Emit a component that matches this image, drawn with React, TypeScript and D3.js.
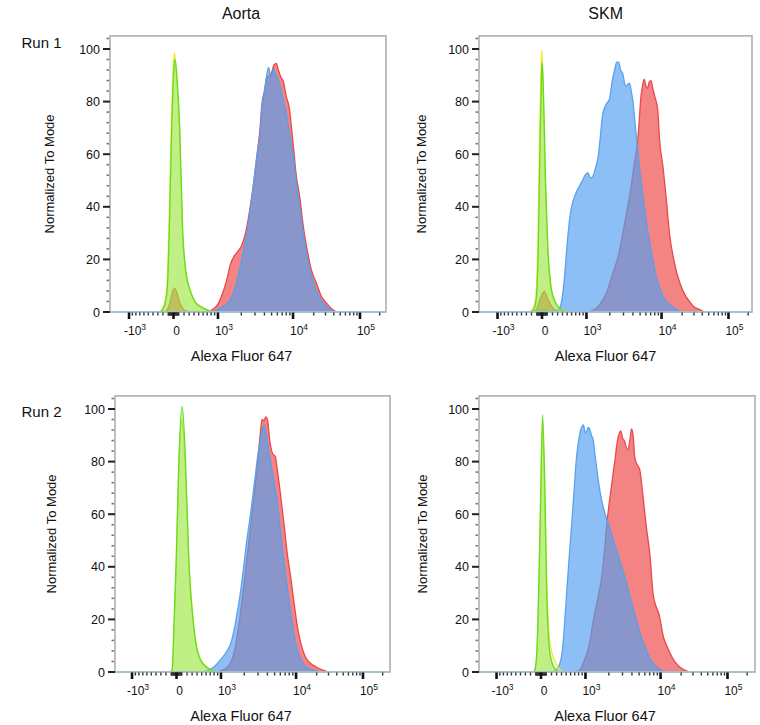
import React from "react";
import * as d3 from "d3";

type Pt = [number, number];

// ---------- text ----------
const colTitles = ["Aorta", "SKM"];
const rowTitles = ["Run 1", "Run 2"];
const xAxisTitle = "Alexa Fluor 647";
const yAxisTitle = "Normalized To Mode";
const yTickValues = [0, 20, 40, 60, 80, 100];
const xMajorTicks = [-1000, 0, 1000, 10000, 100000];
const xTickBase = ["-10", "0", "10", "10", "10"];
const xTickExp = ["3", "", "3", "4", "5"];

// ---------- data: [intensity, % of mode] ----------
const aortaRun1Red: Pt[] = [[-160,0],[-100,1.5],[-50,5],[0,8.5],[25,9],[60,7.5],[110,4],[170,1.5],[250,0.3],[350,0],[700,0],[850,1],[1000,3],[1150,7],[1300,12],[1450,18],[1600,21],[1800,23],[2000,25],[2300,31],[2600,40],[2850,48],[3200,60],[3500,70],[3700,79],[4000,84],[4300,89],[4700,90],[5000,91],[5400,94],[5800,94.5],[6200,92],[6800,89],[7200,88],[8000,82],[8900,77],[9500,70],[10200,62],[11000,53],[12600,43],[14000,33],[15700,25],[18500,16],[22000,11],[26000,6],[31000,3.4],[37000,1.2],[44000,0]];
const aortaRun1Blue: Pt[] = [[850,0],[1000,1],[1200,2.5],[1450,4.7],[1700,10],[1930,17],[2150,24],[2350,30],[2600,39],[2850,48],[3200,60],[3500,68],[3650,76],[3900,82],[4100,86],[4350,91],[4550,93],[4800,90],[5000,89.5],[5300,92.5],[5600,91],[6000,89],[6400,87],[7200,81],[8000,75.6],[9000,67],[10200,58],[11400,47],[12600,39],[14000,30],[15700,22],[18000,15],[21000,9.7],[24500,5.5],[28000,3.4],[33000,1.5],[39000,0.3],[42000,0]];
const aortaRun1Yellow: Pt[] = [[-260,0],[-185,2.2],[-125,9],[-85,33],[-40,72],[-5,93],[20,98.6],[55,90],[110,70],[165,33],[230,15],[320,8],[420,3.5],[560,1.5],[750,0.4],[950,0]];
const aortaRun1Green: Pt[] = [[-250,0],[-180,2],[-120,8.4],[-80,31],[-35,69],[0,90],[30,96],[70,88],[120,69],[175,31],[240,15],[320,8.4],[420,4],[560,2],[750,0.5],[950,0]];

const skmRun1Red: Pt[] = [[-160,0],[-100,1.2],[-50,4],[10,7],[45,7.8],[100,5.5],[170,2.5],[260,0.6],[350,0],[1000,0],[1200,0.5],[1500,3],[1800,7],[2200,15],[2600,22],[2940,30],[3400,40],[3800,48],[4200,57],[4600,64],[4900,74],[5100,81],[5400,86],[5700,88.5],[6000,86],[6300,85],[6700,87.5],[7100,88],[7500,85],[8000,82],[8800,77],[9400,65],[10500,55],[11700,43],[13000,30],[15300,19],[18500,11],[22000,6.5],[25700,4],[30000,2],[36000,1],[43000,0]];
const skmRun1Blue: Pt[] = [[-150,0],[-60,0.8],[40,1],[150,0.5],[250,0.5],[330,1.2],[370,3],[430,11],[510,28],[560,36],[600,40],[700,45],[800,48],[880,50],[960,52],[1040,53],[1130,51],[1210,51.5],[1320,55],[1420,59],[1520,67],[1620,75],[1800,79],[1980,81],[2150,88],[2300,92],[2450,95],[2600,95],[2750,92],[2940,90.5],[3100,87],[3250,85.7],[3400,86.5],[3600,87],[3800,84],[4000,80],[4400,68],[4900,55],[5700,40],[6700,27.5],[8400,13.5],[10500,6],[14500,2],[18500,0]];
const skmRun1Yellow: Pt[] = [[-240,0],[-165,1.5],[-115,6],[-75,30],[-45,68],[-15,95],[-5,99.6],[20,86],[60,50],[105,25],[165,9],[250,3.5],[370,1],[500,0]];
const skmRun1Green: Pt[] = [[-230,0],[-160,1],[-110,5],[-70,25],[-40,60],[-10,90],[5,95],[30,82],[70,48],[110,25],[170,10],[250,4],[370,1],[500,0]];

const aortaRun2Red: Pt[] = [[900,0],[1230,2],[1500,8],[1780,22],[2100,40],[2400,55],[2700,68],[2930,78],[3200,90],[3400,96],[3600,95.5],[3800,97],[4000,96],[4300,88],[4700,83],[5100,82],[5500,76],[6000,68],[6700,57],[7500,45],[8500,35],[9500,25],[10500,17],[11700,11],[13500,6],[16000,3.4],[20000,1.8],[23500,0.9],[30000,0]];
const aortaRun2Blue: Pt[] = [[500,0],[620,0.5],[800,2],[990,4.7],[1200,8],[1350,11],[1550,19],[1780,30],[2000,42],[2150,50],[2350,58],[2530,65.5],[2750,74],[2930,80.7],[3200,88],[3400,92],[3650,94],[3970,88],[4300,82],[4600,77],[5000,71],[5400,65.5],[6000,54],[6700,42.7],[7500,32],[8400,22.4],[9400,14],[10500,8.5],[11700,5],[13000,2.8],[15000,1.5],[18400,0.6],[22000,0]];
const aortaRun2Yellow: Pt[] = [[-110,0],[-75,2],[-50,14],[-5,40],[45,78],[100,96],[165,78],[235,42],[335,17],[470,5],[700,1],[900,0]];
const aortaRun2Green: Pt[] = [[-110,0],[-80,1],[-70,4.7],[-50,17],[-5,43],[45,81],[108,101],[170,81],[235,43],[335,17],[470,4.7],[700,0.9],[900,0]];

const skmRun2Red: Pt[] = [[700,0],[820,0.5],[950,4],[1040,7],[1150,12],[1270,19.7],[1450,28],[1620,36],[1750,45],[1870,55],[2000,63],[2160,70.5],[2280,76],[2400,80.7],[2520,86],[2650,89.6],[2850,91.7],[3000,89],[3200,87.7],[3400,85],[3550,84.5],[3750,88],[3950,92.4],[4150,90],[4350,82],[4600,79.4],[5100,77],[5600,68],[6300,55],[7100,44],[7800,30],[8600,25],[9500,22],[11000,13.3],[12500,9.5],[13800,7],[16000,4],[19000,1.9],[26500,0]];
const skmRun2Blue: Pt[] = [[200,0],[290,1],[360,3],[410,7],[460,17],[510,30],[560,42],[620,55],[680,68],[740,80.7],[820,89.6],[880,93],[940,94],[990,91],[1040,91.5],[1080,93],[1120,92.8],[1200,90],[1270,88],[1340,82],[1410,77],[1520,70],[1620,65.4],[1800,60],[2050,55],[2300,50],[2530,46],[3000,39],[3400,33.7],[4000,26],[4600,19.7],[5400,13],[6300,8.3],[7500,4],[8800,1.9],[11000,0]];
const skmRun2Yellow: Pt[] = [[-130,0],[-110,1],[-80,6],[-45,28],[-5,66],[25,95],[70,68],[110,34],[170,11],[270,4],[340,1.5],[450,0]];
const skmRun2Green: Pt[] = [[-130,0],[-115,1],[-80,7],[-45,30],[-5,68],[30,97.8],[75,68],[108,30],[170,7],[270,1],[350,0]];

const panelData = [
  { red: aortaRun1Red, blue: aortaRun1Blue, yellow: aortaRun1Yellow, green: aortaRun1Green },
  { red: skmRun1Red, blue: skmRun1Blue, yellow: skmRun1Yellow, green: skmRun1Green },
  { red: aortaRun2Red, blue: aortaRun2Blue, yellow: aortaRun2Yellow, green: aortaRun2Green },
  { red: skmRun2Red, blue: skmRun2Blue, yellow: skmRun2Yellow, green: skmRun2Green },
];

// ---------- layout ----------
const layouts = [
  { left: 110, right: 386, base: 312, zero: 173.5, yTitleX: 49.3, xTitleX: 241.5 },
  { left: 479, right: 752, base: 312, zero: 542, yTitleX: 421.7, xTitleX: 605.5 },
  { left: 115, right: 390, base: 672, zero: 176.5, yTitleX: 51, xTitleX: 241 },
  { left: 479, right: 755, base: 672, zero: 541, yTitleX: 422, xTitleX: 605 },
];
const PX_PER_U = 28.2;
const PX_PER_PCT = 2.63;
const Y_MAX = 105;

const styles: { key: "red" | "blue" | "yellow" | "green"; fill: string; stroke: string }[] = [
  { key: "red", fill: "rgba(240,80,80,0.7)", stroke: "rgba(232,66,66,0.95)" },
  { key: "blue", fill: "rgba(84,159,240,0.67)", stroke: "rgba(85,160,235,0.95)" },
  { key: "yellow", fill: "rgba(245,245,80,0.35)", stroke: "rgba(238,232,40,0.95)" },
  { key: "green", fill: "rgba(120,225,60,0.45)", stroke: "rgba(95,218,35,0.95)" },
];

const FONT = "'Liberation Sans', Arial, Helvetica, sans-serif";

// ---------- logicle-like (biexponential) transform ----------
const K = 133;
const P = 3;
function biex(u: number): number {
  const a = Math.abs(u);
  const v = K * (Math.exp(a) - P * P * Math.exp(-a / P) + P * P - 1);
  return u < 0 ? -v : v;
}
function toU(x: number): number {
  let lo = -12, hi = 14;
  for (let i = 0; i < 70; i++) {
    const m = (lo + hi) / 2;
    if (biex(m) < x) lo = m; else hi = m;
  }
  return (lo + hi) / 2;
}

const minorXTicks = [
  ...d3.range(-900, -99, 100),
  ...d3.range(-90, 0, 10),
  ...d3.range(10, 100, 10),
  ...d3.range(100, 1000, 100),
  ...d3.range(2000, 10000, 1000),
  ...d3.range(20000, 100000, 10000),
  200000,
];
const minorYTicks = d3.range(0, 105, 4).filter((v) => v % 20 !== 0);

function Panel({ idx }: { idx: number }) {
  const L = layouts[idx];
  const data = panelData[idx];
  const xs = d3.scaleLinear()
    .domain([(L.left - L.zero) / PX_PER_U, (L.right - L.zero) / PX_PER_U])
    .range([L.left, L.right]);
  const ys = d3.scaleLinear().domain([0, 100]).range([L.base, L.base - 100 * PX_PER_PCT]);
  const top = ys(Y_MAX);
  const area = d3.area<Pt>()
    .x((d) => xs(toU(d[0])))
    .y0(ys(0))
    .y1((d) => ys(d[1]))
    .curve(d3.curveMonotoneX);
  const line = d3.line<Pt>()
    .x((d) => xs(toU(d[0])))
    .y((d) => ys(d[1]))
    .curve(d3.curveMonotoneX);
  const clipId = `clip-${idx}`;
  const inX = (v: number) => {
    const p = xs(toU(v));
    return p >= L.left && p <= L.right;
  };
  return (
    <g>
      <defs>
        <clipPath id={clipId}>
          <rect x={L.left} y={top} width={L.right - L.left} height={L.base - top} />
        </clipPath>
      </defs>
      <g clipPath={`url(#${clipId})`}>
        {styles.map((s) => (
          <g key={s.key}>
            <path d={area(data[s.key]) || ""} fill={s.fill} stroke="none" />
            <path d={line(data[s.key]) || ""} fill="none" stroke={s.stroke} strokeWidth={1.3} />
          </g>
        ))}
      </g>
      <rect x={L.left} y={top} width={L.right - L.left} height={L.base - top} fill="none" stroke="#b0b0b0" strokeWidth={1.6} />
      <line x1={L.left} x2={L.right} y1={L.base} y2={L.base} stroke="#9ec3d3" strokeWidth={1.4} />
      {yTickValues.map((v) => (
        <g key={`y${v}`}>
          <line x1={L.left - 7} x2={L.left} y1={ys(v)} y2={ys(v)} stroke="#222" strokeWidth={2} />
          <text x={L.left - 10} y={ys(v)} dy="0.36em" textAnchor="end" fontSize={12.5} fontFamily={FONT} fill="#111">{v}</text>
        </g>
      ))}
      {minorYTicks.map((v) => (
        <line key={`ym${v}`} x1={L.left - 3.5} x2={L.left - 1} y1={ys(v)} y2={ys(v)} stroke="#777" strokeWidth={1.6} />
      ))}
      {minorXTicks.filter(inX).map((v) => (
        <line key={`xm${v}`} x1={xs(toU(v))} x2={xs(toU(v))} y1={L.base + 0.5} y2={L.base + 3.5} stroke="#333" strokeWidth={1.4} />
      ))}
      {xMajorTicks.map((v, i) => {
        const px = xs(toU(v));
        return (
          <g key={`xM${v}`}>
            <line x1={px} x2={px} y1={L.base + 0.5} y2={L.base + 7} stroke="#111" strokeWidth={2.6} />
            <text x={px + (xTickExp[i] ? 6 : 3)} y={L.base + 23} textAnchor="middle" fontSize={12} fontFamily={FONT} fill="#111">
              <tspan>{xTickBase[i]}</tspan>
              {xTickExp[i] ? <tspan dy={-5.5} fontSize={8.5}>{xTickExp[i]}</tspan> : null}
            </text>
          </g>
        );
      })}
      <text
        transform={`translate(${L.yTitleX},${(L.base + top) / 2}) rotate(-90)`}
        textAnchor="middle" dy="0.36em" fontSize={13} fontFamily={FONT} fill="#111"
      >{yAxisTitle}</text>
      <text x={L.xTitleX} y={L.base + 49} textAnchor="middle" fontSize={14.5} fontFamily={FONT} fill="#111">{xAxisTitle}</text>
    </g>
  );
}

export default function App() {
  return (
    <svg width={760} height={725} style={{ position: "absolute", left: 0, top: 0, background: "#fff" }}>
      <rect x={0} y={0} width={760} height={725} fill="#fff" />
      <text x={241} y={18.5} textAnchor="middle" fontSize={16} fontFamily={FONT} fill="#111">{colTitles[0]}</text>
      <text x={605.7} y={18.5} textAnchor="middle" fontSize={16} fontFamily={FONT} fill="#111">{colTitles[1]}</text>
      <text x={21.5} y={48.3} fontSize={15} fontFamily={FONT} fill="#111">{rowTitles[0]}</text>
      <text x={21.5} y={416.7} fontSize={15} fontFamily={FONT} fill="#111">{rowTitles[1]}</text>
      {layouts.map((_, i) => <Panel key={i} idx={i} />)}
    </svg>
  );
}
